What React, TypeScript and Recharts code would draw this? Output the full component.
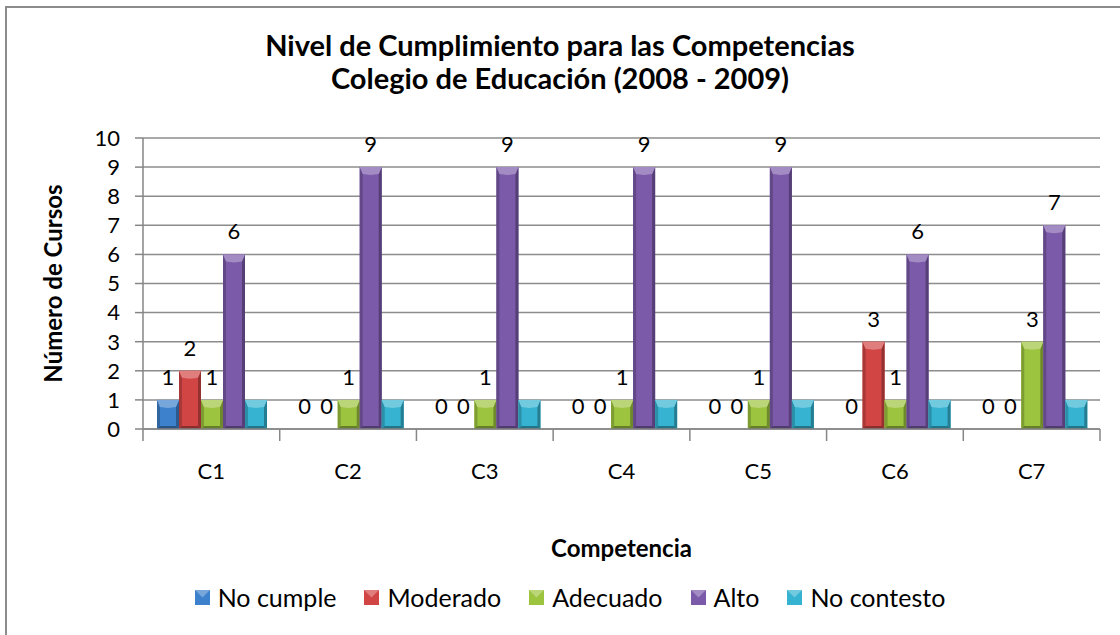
import React from "react";
import {
  BarChart,
  Bar,
  XAxis,
  YAxis,
  CartesianGrid,
  LabelList,
  Label,
} from "recharts";

const categories = ["C1", "C2", "C3", "C4", "C5", "C6", "C7"];
const noCumple = [1, 0, 0, 0, 0, 0, 0];
const moderado = [2, 0, 0, 0, 0, 3, 0];
const adecuado = [1, 1, 1, 1, 1, 1, 3];
const alto = [6, 9, 9, 9, 9, 6, 7];
const noContesto = [1, 1, 1, 1, 1, 1, 1];
const yTicks = [0, 1, 2, 3, 4, 5, 6, 7, 8, 9, 10];

const series = [
  { key: "noCumple", name: "No cumple", color: "#3d80cc", labels: true },
  { key: "moderado", name: "Moderado", color: "#d24545", labels: true },
  { key: "adecuado", name: "Adecuado", color: "#9cc43e", labels: true },
  { key: "alto", name: "Alto", color: "#7b5aa9", labels: true },
  { key: "noContesto", name: "No contesto", color: "#35b3d1", labels: false },
];

const data = categories.map((c, i) => ({
  name: c,
  noCumple: noCumple[i],
  moderado: moderado[i],
  adecuado: adecuado[i],
  alto: alto[i],
  noContesto: noContesto[i],
}));

const FONT = "Lato, 'Open Sans', sans-serif";

function shade(hex: string, amt: number) {
  const n = parseInt(hex.slice(1), 16);
  const f = (v: number) =>
    Math.max(0, Math.min(255, Math.round(amt > 0 ? v + (255 - v) * amt : v * (1 + amt))));
  const r = f((n >> 16) & 255);
  const g = f((n >> 8) & 255);
  const b = f(n & 255);
  return `rgb(${r},${g},${b})`;
}

function BevelBar(props: any) {
  const { x, y, width, height, fill } = props;
  if (!height || height <= 0) return null;
  const b = Math.min(7, height / 2);
  const s = Math.min(3, width / 4);
  return (
    <g>
      <rect x={x} y={y} width={width} height={height} fill={fill} />
      <polygon
        points={`${x},${y} ${x + s},${y + b} ${x + s},${y + height - s} ${x},${y + height}`}
        fill={shade(fill, -0.2)}
      />
      <polygon
        points={`${x + width},${y} ${x + width - s},${y + b} ${x + width - s},${y + height - s} ${x + width},${y + height}`}
        fill={shade(fill, -0.3)}
      />
      <polygon
        points={`${x},${y + height} ${x + s},${y + height - s} ${x + width - s},${y + height - s} ${x + width},${y + height}`}
        fill={shade(fill, -0.35)}
      />
      <polygon
        points={`${x},${y} ${x + width},${y} ${x + width - s},${y + b} ${x + width / 2},${y + b + 1} ${x + s},${y + b}`}
        fill={shade(fill, 0.3)}
      />
    </g>
  );
}

function CatTick(props: any) {
  const { x, y, payload, index } = props;
  const half = 136.7 / 2;
  return (
    <g>
      <line x1={x - half} y1={y - 8} x2={x - half} y2={y + 4} stroke="#868686" strokeWidth={1.5} />
      {index === categories.length - 1 && (
        <line x1={x + half} y1={y - 8} x2={x + half} y2={y + 4} stroke="#868686" strokeWidth={1.5} />
      )}
      <text x={x} y={y + 42} textAnchor="middle" fontSize={22} fill="#000" fontFamily={FONT}>
        {payload.value}
      </text>
    </g>
  );
}

export default function App() {
  return (
    <div
      style={{
        position: "absolute",
        left: 0,
        top: 0,
        width: 1120,
        height: 635,
        overflow: "hidden",
        background: "#fff",
      }}
    >
      <div
        style={{
          position: "absolute",
          left: 5,
          top: 6,
          width: 1130,
          height: 650,
          border: "2px solid #8c8c8c",
          boxSizing: "border-box",
        }}
      />
      <div
        style={{
          position: "absolute",
          left: 0,
          top: 28,
          width: 1120,
          textAlign: "center",
          fontFamily: FONT,
          fontWeight: "bold",
          fontSize: 29,
          lineHeight: "33px",
          color: "#000",
        }}
      >
        Nivel de Cumplimiento para las Competencias
        <br />
        Colegio de Educación (2008 - 2009)
      </div>
      <div style={{ position: "absolute", left: 0, top: 0 }}>
        <BarChart
          width={1120}
          height={635}
          data={data}
          margin={{ top: 138, right: 20, bottom: 56, left: 73 }}
          barCategoryGap={14}
          barGap={0}
        >
          <CartesianGrid vertical={false} stroke="#8c8c8c" strokeWidth={1.5} />
          <XAxis
            dataKey="name"
            height={150}
            axisLine={{ stroke: "#868686", strokeWidth: 1.5 }}
            tickLine={false}
            tick={<CatTick />}
            interval={0}
          >
            <Label
              value="Competencia"
              position="insideBottom"
              offset={22}
              style={{ fontFamily: FONT, fontWeight: "bold", fontSize: 24, fill: "#000" }}
            />
          </XAxis>
          <YAxis
            width={70}
            domain={[0, 10]}
            ticks={yTicks}
            interval={0}
            axisLine={{ stroke: "#868686", strokeWidth: 1.5 }}
            tickLine={{ stroke: "#868686", strokeWidth: 1.5 }}
            tickSize={8}
            tickMargin={15}
            tick={{ fontSize: 22, fill: "#000", fontFamily: FONT }}
          >
            <Label
              value="Número de Cursos"
              angle={-90}
              position="insideLeft"
              offset={-20}
              style={{
                fontFamily: FONT,
                fontWeight: "bold",
                fontSize: 24,
                fill: "#000",
                textAnchor: "middle",
              }}
            />
          </YAxis>
          {series.map((s) => (
            <Bar
              key={s.key}
              dataKey={s.key}
              name={s.name}
              fill={s.color}
              shape={<BevelBar />}
              isAnimationActive={false}
            >
              {s.labels && (
                <LabelList
                  dataKey={s.key}
                  position="top"
                  offset={15}
                  style={{ fontSize: 22, fill: "#000", fontFamily: FONT }}
                />
              )}
            </Bar>
          ))}
        </BarChart>
      </div>
      <div
        style={{
          position: "absolute",
          left: 20,
          top: 582,
          width: 1100,
          display: "flex",
          justifyContent: "center",
          alignItems: "center",
          fontFamily: FONT,
          fontSize: 25,
          lineHeight: "30px",
          color: "#000",
        }}
      >
        {series.map((s, i) => (
          <div
            key={s.key}
            style={{
              display: "flex",
              alignItems: "center",
              marginRight: i === series.length - 1 ? 0 : 28,
            }}
          >
            <svg width={15} height={15} style={{ marginRight: 8 }}>
              <rect x={0} y={0} width={15} height={15} fill={s.color} />
              <polygon points="0,0 15,0 7.5,7.5" fill={shade(s.color, 0.3)} />
            </svg>
            <span>{s.name}</span>
          </div>
        ))}
      </div>
    </div>
  );
}
